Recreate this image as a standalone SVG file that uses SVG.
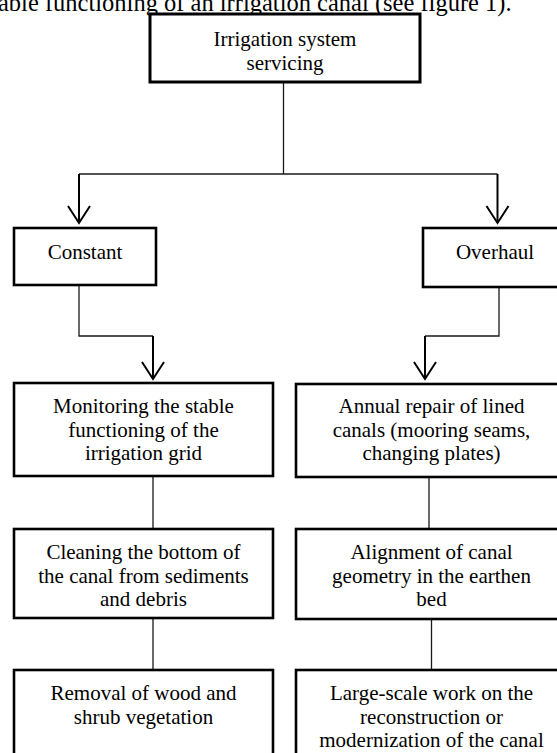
<svg xmlns="http://www.w3.org/2000/svg" width="557" height="753" viewBox="0 0 557 753">
<defs>
<style>
text{font-family:"Liberation Serif","Times New Roman",serif;font-size:21px;fill:#000;text-anchor:middle}
.box{fill:#fff;stroke:#000;stroke-width:2.6}
.top{stroke-width:3}
.thin{fill:none;stroke:#1a1a1a;stroke-width:1.3}
.shaft{fill:none;stroke:#000;stroke-width:2}
</style>
</defs>
<rect width="557" height="753" fill="#fff"/>
<text x="-2" y="11" style="text-anchor:start;font-size:24.5px">able functioning of an irrigation canal (see figure 1).</text>

<g id="connectors">
<path class="thin" d="M283.5 82V174M79 174H497.5"/>
<path class="shaft" d="M79 174V222M497.5 174V222"/>
<path class="thin" d="M79 285V336H153M499 287V336H425"/>
<path class="shaft" d="M153 336V378M425 336V378"/>
<path class="thin" d="M153 476V529M429 477V529M153 618V670M431.5 619V670"/>
<path class="shaft" d="M68 206L79 223L90 206M486.5 206L497.5 223L508.5 206M142 362L153 379L164 362M414 362L425 379L436 362"/>
</g>

<g id="n-servicing">
<rect class="box top" x="150" y="14" width="270" height="68"/>
<text x="285" y="46">Irrigation system</text>
<text x="285" y="69.5">servicing</text>
</g>
<g id="n-constant">
<rect class="box" x="14" y="228" width="142" height="57"/>
<text x="85" y="259">Constant</text>
</g>
<g id="n-overhaul">
<rect class="box" x="423" y="228" width="144" height="59"/>
<text x="495" y="259">Overhaul</text>
</g>
<g id="n-monitoring">
<rect class="box" x="14" y="383" width="259" height="93"/>
<text x="143.5" y="413">Monitoring the stable</text>
<text x="143.5" y="436.5">functioning of the</text>
<text x="143.5" y="460">irrigation grid</text>
</g>
<g id="n-annual">
<rect class="box" x="296" y="384" width="271" height="93"/>
<text x="431.5" y="413">Annual repair of lined</text>
<text x="431.5" y="436.5">canals (mooring seams,</text>
<text x="431.5" y="460">changing plates)</text>
</g>
<g id="n-cleaning">
<rect class="box" x="14" y="529" width="259" height="89"/>
<text x="143.5" y="559">Cleaning the bottom of</text>
<text x="143.5" y="582.5">the canal from sediments</text>
<text x="143.5" y="606">and debris</text>
</g>
<g id="n-alignment">
<rect class="box" x="296" y="529" width="271" height="90"/>
<text x="431.5" y="559">Alignment of canal</text>
<text x="431.5" y="582.5">geometry in the earthen</text>
<text x="431.5" y="606">bed</text>
</g>
<g id="n-removal">
<rect class="box" x="14" y="670" width="259" height="100"/>
<text x="143.5" y="700">Removal of wood and</text>
<text x="143.5" y="723.5">shrub vegetation</text>
</g>
<g id="n-largescale">
<rect class="box" x="296" y="670" width="271" height="100"/>
<text x="431.5" y="700">Large-scale work on the</text>
<text x="431.5" y="723.5">reconstruction or</text>
<text x="431.5" y="747">modernization of the canal</text>
</g>
</svg>
